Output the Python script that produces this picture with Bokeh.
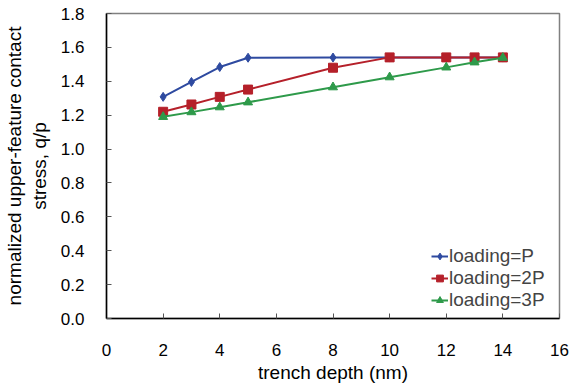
from bokeh.plotting import figure
from bokeh.models import Range1d, FixedTicker, Legend, LegendItem
from bokeh.embed import file_html
from bokeh.resources import INLINE

depth = [2, 3, 4, 5, 8, 10, 12, 13, 14]
load_p = [1.308, 1.396, 1.484, 1.539, 1.540, 1.540, 1.540, 1.540, 1.540]
load_2p = [1.220, 1.263, 1.308, 1.351, 1.480, 1.541, 1.541, 1.541, 1.541]
load_3p = [1.190, 1.218, 1.247, 1.276, 1.365, 1.424, 1.482, 1.512, 1.539]
x_ticks = [0, 2, 4, 6, 8, 10, 12, 14, 16]
y_ticks = [0.0, 0.2, 0.4, 0.6, 0.8, 1.0, 1.2, 1.4, 1.6, 1.8]

FONT = "Liberation Sans"
BLUE = "#2E4AA0"
RED = "#B5202A"
GREEN = "#2E9A4A"

p = figure(width=573, height=385, output_backend="svg", toolbar_location=None,
           x_range=Range1d(0, 16), y_range=Range1d(0, 1.8),
           min_border_left=104, min_border_right=14, min_border_top=13, min_border_bottom=66)
p.xgrid.visible = False
p.ygrid.visible = False
p.outline_line_color = "#808080"
p.outline_line_width = 1.5
p.background_fill_color = "white"
p.border_fill_color = "white"

for ax in (p.xaxis[0], p.yaxis[0]):
    ax.axis_line_color = "black"
    ax.axis_line_width = 1.5
    ax.major_tick_in = 5
    ax.major_tick_out = 0
    ax.minor_tick_line_color = None
    ax.major_tick_line_color = "#555555"
    ax.major_label_text_font = FONT
    ax.major_label_text_font_size = "17px"
    ax.major_label_text_color = "black"
    ax.axis_label_text_font = FONT
    ax.axis_label_text_font_size = "19px"
    ax.axis_label_text_font_style = "normal"
    ax.axis_label_text_color = "black"

p.xaxis.ticker = FixedTicker(ticks=x_ticks)
p.yaxis.ticker = FixedTicker(ticks=y_ticks)
p.xaxis.major_label_overrides = {t: str(t) for t in x_ticks}
p.yaxis.major_label_overrides = {t: f"{t:.1f}" for t in y_ticks}
p.xaxis.major_label_standoff = 25
p.yaxis.major_label_standoff = 22
p.xaxis.axis_label = "trench depth (nm)"
p.xaxis.axis_label_standoff = 3
p.yaxis.axis_label = "normalized upper-feature contact\nstress, q/p"
p.yaxis.axis_label_standoff = 8

l1 = p.line(depth, load_p, line_color=BLUE, line_width=2)
m1 = p.scatter(depth, load_p, marker="diamond", size=9, color=BLUE)
l2 = p.line(depth, load_2p, line_color=RED, line_width=2)
m2 = p.scatter(depth, load_2p, marker="square", size=9, color=RED)
l3 = p.line(depth, load_3p, line_color=GREEN, line_width=2)
m3 = p.scatter(depth, load_3p, marker="triangle", size=9, color=GREEN)

legend = Legend(items=[LegendItem(label="loading=P", renderers=[l1, m1]),
                       LegendItem(label="loading=2P", renderers=[l2, m2]),
                       LegendItem(label="loading=3P", renderers=[l3, m3])],
                location=(325, 7), margin=0, padding=0, spacing=0,
                glyph_width=17, glyph_height=20, label_height=20, label_standoff=1,
                label_text_font=FONT, label_text_font_size="19px",
                border_line_color=None, background_fill_alpha=0)
p.add_layout(legend)

open("out.html", "w").write(file_html(p, INLINE))
